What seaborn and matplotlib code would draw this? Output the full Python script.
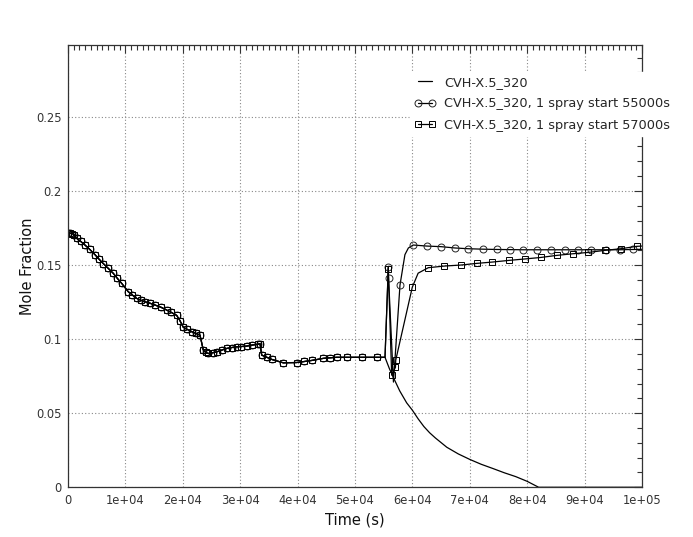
import numpy as np
import pandas as pd
import matplotlib
matplotlib.use("Agg")
import matplotlib.pyplot as plt
from matplotlib.ticker import MultipleLocator, FixedLocator, FuncFormatter
import seaborn as sns

# history shared by all three runs before the spray
common_t = [0, 300, 700, 1100, 1520, 2200, 2960, 3800, 4700, 5400, 6150, 7000,
            7890, 8600, 9360, 10500, 11200, 11970, 12700, 13410, 14300, 15160,
            16200, 17200, 18000, 18940, 19500, 20090, 20800, 21550, 22300, 23000,
            23570, 24000, 24440, 25200, 25910, 26800, 27650, 28500, 29390, 30200,
            31130, 32100, 33150, 33450, 33750, 34600, 35490, 37510, 39840, 41200,
            42460, 44480, 45600, 46810, 48550, 51170, 53780]
common_v = [0.1716, 0.1716, 0.1712, 0.1705, 0.168, 0.166, 0.1635, 0.1605, 0.157,
            0.154, 0.151, 0.1478, 0.1444, 0.141, 0.1376, 0.132, 0.1298, 0.1275,
            0.1262, 0.1252, 0.1242, 0.123, 0.1215, 0.1196, 0.118, 0.116, 0.1125,
            0.108, 0.1065, 0.105, 0.1038, 0.1027, 0.0926, 0.091, 0.0903, 0.0908,
            0.0914, 0.0926, 0.0937, 0.0943, 0.0948, 0.095, 0.0953, 0.096, 0.0966,
            0.097, 0.0892, 0.0878, 0.0863, 0.084, 0.0842, 0.0849, 0.0856, 0.087,
            0.0874, 0.0877, 0.0877, 0.0877, 0.0877]

# no spray: decay to zero
base_t = [55230, 56000, 56700, 57800, 59000, 60000, 61000, 62000, 63000, 64000,
          66000, 68000, 70000, 72000, 74000, 76000, 78000, 80000, 81000, 82000,
          100000]
base_v = [0.0877, 0.080, 0.074, 0.065, 0.057, 0.052, 0.0462, 0.041, 0.0368, 0.0333,
          0.027, 0.0225, 0.0188, 0.0155, 0.0127, 0.0098, 0.0072, 0.0040, 0.0020,
          0.0, 0.0]

# spray start 55000 s: sampled (marked) points and unmarked curve points
s55_t = [55800, 55850, 57840, 60150, 62490, 64980, 67420, 69740, 72250, 74690,
         77000, 79320, 81700, 84100, 86500, 88800, 91200, 93700, 96100, 98500]
s55_v = [0.1485, 0.141, 0.1365, 0.1635, 0.1628, 0.1624, 0.1615, 0.161, 0.1607,
         0.1605, 0.1604, 0.1603, 0.1603, 0.1603, 0.1603, 0.1603, 0.1603, 0.1603,
         0.1603, 0.1605]
s55_curve_t = [55230, 56700, 58700, 59300, 100000]
s55_curve_v = [0.0877, 0.071, 0.157, 0.1615, 0.1606]

# spray start 57000 s
s57_t = [55800, 56390, 57050, 57100, 59980, 62770, 65560, 68470, 71200, 73920,
         76750, 79620, 82350, 85140, 87930, 90640, 93550, 96290, 99070]
s57_v = [0.147, 0.0757, 0.081, 0.0858, 0.135, 0.1482, 0.1493, 0.150, 0.1511,
         0.152, 0.1531, 0.1541, 0.1551, 0.1565, 0.1576, 0.1585, 0.1599, 0.161,
         0.1626]
s57_curve_t = [55230, 61000, 100000]
s57_curve_v = [0.0877, 0.1445, 0.1628]

labels = ["CVH-X.5_320",
          "CVH-X.5_320, 1 spray start 55000s",
          "CVH-X.5_320, 1 spray start 57000s"]


def build(mark_t, mark_v, curve_t, curve_v):
    df = pd.DataFrame({
        "t": common_t + mark_t + curve_t,
        "v": common_v + mark_v + curve_v,
        "marked": [True] * (len(common_t) + len(mark_t)) + [False] * len(curve_t),
    })
    df = df.sort_values("t", kind="stable").reset_index(drop=True)
    return df, [int(i) for i in np.flatnonzero(df["marked"].to_numpy())]


sns.set_theme(style="white")
plt.rcParams["font.family"] = ["DejaVu Sans"]

fig = plt.figure(figsize=(6.93, 5.37), dpi=100)
ax = fig.add_axes([0.0981, 0.0926, 0.8283, 0.8236])

df0, _ = build([], [], base_t, base_v)
sns.lineplot(data=df0, x="t", y="v", sort=False, estimator=None, color="black",
             lw=0.9, label=labels[0], ax=ax)

df1, idx1 = build(s55_t, s55_v, s55_curve_t, s55_curve_v)
sns.lineplot(data=df1, x="t", y="v", sort=False, estimator=None, color="black",
             lw=0.9, marker="o", ms=5, mfc="none", mec="#222222", mew=0.7,
             markevery=idx1, label=labels[1], ax=ax)

df2, idx2 = build(s57_t, s57_v, s57_curve_t, s57_curve_v)
sns.lineplot(data=df2, x="t", y="v", sort=False, estimator=None, color="black",
             lw=0.9, marker="s", ms=4.3, mfc="none", mec="black", mew=0.7,
             markevery=idx2, label=labels[2], ax=ax)

ax.set_xlim(0, 100000)
ax.set_ylim(0, 0.2985)
ax.xaxis.set_major_locator(MultipleLocator(10000))
ax.xaxis.set_minor_locator(MultipleLocator(1000))
ax.yaxis.set_major_locator(FixedLocator([0, 0.05, 0.1, 0.15, 0.2, 0.25]))
ax.yaxis.set_minor_locator(MultipleLocator(0.01))
ax.xaxis.set_major_formatter(FuncFormatter(lambda x, p: "0" if x == 0 else "%.0e" % x))
ax.yaxis.set_major_formatter(FuncFormatter(lambda y, p: "%g" % round(y, 4)))

ax.tick_params(which="both", direction="in", top=True, right=True,
               colors="#333333", labelsize=8.3, width=0.8)
ax.tick_params(which="major", length=6, pad=4.5)
ax.tick_params(which="minor", length=3.5)
for s in ax.spines.values():
    s.set_color("#333333")
    s.set_linewidth(0.9)
ax.grid(True, which="major", linestyle=(0, (1, 2)), color="#888888", lw=0.8)
ax.set_axisbelow(True)

ax.set_xlabel("Time (s)", fontsize=10.5, color="#111111")
ax.set_ylabel("Mole Fraction", fontsize=10.5, color="#111111", labelpad=1)

leg = ax.legend(loc="upper left", bbox_to_anchor=(0.582, 0.878),
                bbox_transform=fig.transFigure, numpoints=2, handlelength=1.75,
                handletextpad=0.6, labelspacing=0.65, borderpad=0.3,
                fontsize=9.3, frameon=True, fancybox=False, framealpha=1,
                facecolor="white", edgecolor="white")
leg.set_zorder(10)

fig.savefig("out.png", dpi=100)
